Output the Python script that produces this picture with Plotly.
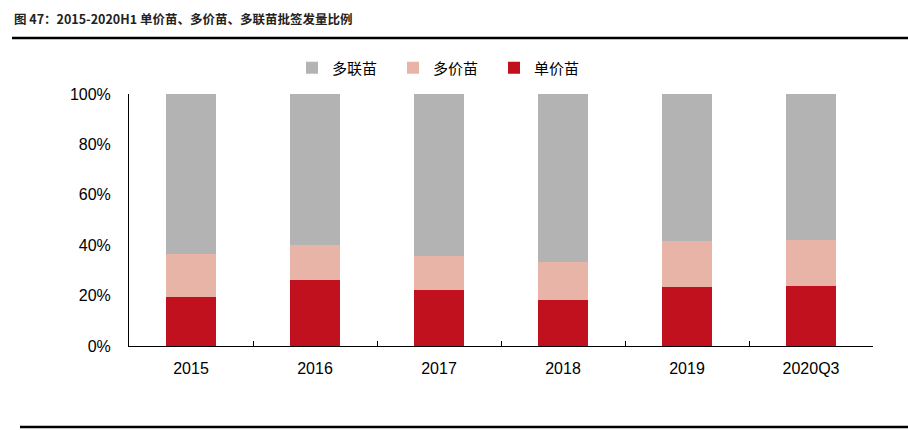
import plotly.graph_objects as go

# 批签发量比例（%）
categories = ["2015", "2016", "2017", "2018", "2019", "2020Q3"]
single_val = [19.3, 26.2, 22.2, 18.3, 23.6, 23.7]   # 单价苗
multi_val = [17.2, 13.7, 13.7, 15.1, 18.1, 18.5]    # 多价苗
combo_val = [63.5, 60.1, 64.1, 66.6, 58.3, 57.8]    # 多联苗
y_ticks = [0, 20, 40, 60, 80, 100]
y_tick_text = ["0%", "20%", "40%", "60%", "80%", "100%"]

W, H = 908, 430
L, R, T, B = 129, 35, 94, 84
pw, ph = W - L - R, H - T - B


def px_x(p):
    return (p - L) / pw


def px_y(p):
    return (H - B - p) / ph


fig = go.Figure()
fig.add_bar(x=categories, y=single_val, name="单价苗", marker_color="#C2111E",
            marker_line_width=0)
fig.add_bar(x=categories, y=multi_val, name="多价苗", marker_color="#E8B4A8",
            marker_line_width=0)
fig.add_bar(x=categories, y=combo_val, name="多联苗", marker_color="#B3B3B3",
            marker_line_width=0)

fig.update_layout(
    width=W, height=H,
    margin=dict(l=L, r=R, t=T, b=B),
    barmode="stack",
    bargap=0.59,
    plot_bgcolor="white",
    paper_bgcolor="white",
    font=dict(family="Liberation Sans, Arial, sans-serif", size=16, color="#000"),
    legend=dict(
        orientation="h", traceorder="reversed",
        x=px_x(292), y=px_y(68), xanchor="left", yanchor="middle",
        entrywidth=56, entrywidthmode="pixels",
        font=dict(family="Noto Sans CJK SC", size=15, color="#000"),
        itemclick=False,
    ),
    showlegend=True,
)

fig.update_xaxes(
    type="category",
    showline=True, linecolor="#000", linewidth=1,
    ticks="inside", tickson="boundaries", ticklen=5, tickcolor="#000",
    showgrid=False,
    ticklabelstandoff=8,
    tickfont=dict(size=16),
)
fig.update_yaxes(
    range=[0, 100],
    tickvals=y_ticks, ticktext=y_tick_text,
    showline=True, linecolor="#000", linewidth=1,
    ticks="", showgrid=False, zeroline=False,
    ticklabelstandoff=14,
    tickfont=dict(size=16),
)

# 标题与上下分隔线
fig.add_annotation(
    text="<b>图 47：2015-2020H1 单价苗、多价苗、多联苗批签发量比例</b>",
    xref="paper", yref="paper", x=px_x(12), y=px_y(19),
    xanchor="left", yanchor="middle", showarrow=False,
    font=dict(family="Liberation Sans Narrow, Noto Sans CJK SC", size=12.5,
              color="#222"),
)
fig.add_shape(type="line", xref="paper", yref="paper",
              x0=px_x(12), x1=px_x(908), y0=px_y(38), y1=px_y(38),
              line=dict(color="#000", width=2.5))
fig.add_shape(type="line", xref="paper", yref="paper",
              x0=px_x(20), x1=px_x(908), y0=px_y(427), y1=px_y(427),
              line=dict(color="#000", width=2.5))

# 去掉页面默认边距，让图从左上角开始
fig.write_html("out.html", config={"displayModeBar": False},
               post_script="document.body.style.margin='0';")
